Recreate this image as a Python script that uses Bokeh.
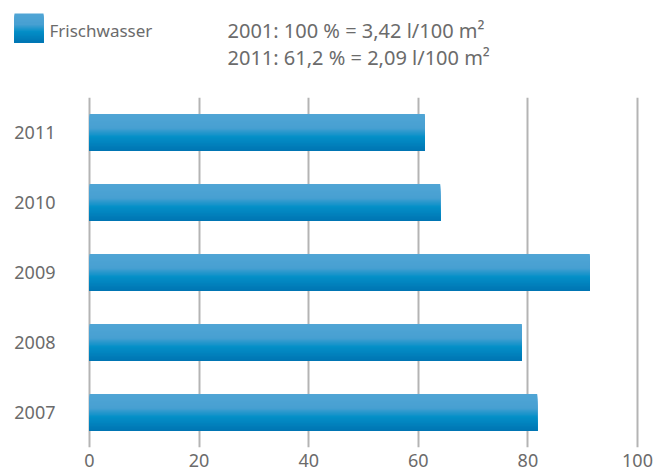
from bokeh.plotting import figure
from bokeh.layouts import column
from bokeh.models import FactorRange, Range1d, FixedTicker, ColumnDataSource
from bokeh.transform import dodge
from bokeh.core.properties import value
from bokeh.embed import file_html
from bokeh.resources import INLINE

# Fresh water consumption, indexed to 2001 = 100 %
years = ["2007", "2008", "2009", "2010", "2011"]
fresh_water = [81.7, 78.9, 91.3, 64.0, 61.2]
x_ticks = [0, 20, 40, 60, 80, 100]
series_name = "Frischwasser"
notes = ["2001: 100 % = 3,42 l/100 m²", "2011: 61,2 % = 2,09 l/100 m²"]

FONT = "Noto Sans"
TEXT = "#6b6b6b"
GRID = "#b4b4b4"

# vertical gradient of the bars: (fraction from top, rgb)
STOPS = [
    (0.00, (0x50, 0xa5, 0xd5)),
    (0.38, (0x48, 0xa0, 0xd2)),
    (0.62, (0x04, 0x8f, 0xc7)),
    (1.00, (0x00, 0x74, 0xb2)),
]
N_STRIPS = 30


def grad(t):
    for (t0, c0), (t1, c1) in zip(STOPS[:-1], STOPS[1:]):
        if t <= t1:
            f = (t - t0) / (t1 - t0) if t1 > t0 else 0.0
            rgb = [round(a + (b - a) * f) for a, b in zip(c0, c1)]
            return "#%02x%02x%02x" % tuple(rgb)
    return "#%02x%02x%02x" % STOPS[-1][1]


# ---- header: legend swatch and reference notes ----
W = 658
HEAD_H = 90
head = figure(width=W, height=HEAD_H, x_range=Range1d(0, W), y_range=Range1d(HEAD_H, 0),
              output_backend="svg", toolbar_location=None, min_border=0)
head.frame_align = False
head.axis.visible = False
head.grid.visible = False
head.outline_line_color = None

# swatch: each strip runs from its own top down to the swatch bottom,
# later strips overlap earlier ones so no seams appear
sw_left, sw_top, sw_size = 14, 13, 29
step = sw_size / N_STRIPS
for i in range(N_STRIPS):
    head.quad(left=[sw_left], right=[sw_left + sw_size],
              top=[sw_top + i * step], bottom=[sw_top + sw_size],
              fill_color=grad((i + 0.5) / N_STRIPS), line_color=None)

head.text(x=[49], y=[30], text=[series_name], text_baseline="middle", text_align="left",
          text_font=value(FONT), text_font_size="17px", text_color=TEXT)
head.text(x=[227, 227], y=[30, 57], text=notes, text_baseline="middle", text_align="left",
          text_font=value(FONT), text_font_size="20px", text_color=TEXT)

# ---- main chart ----
src = ColumnDataSource(dict(year=years, value=fresh_water))

p = figure(width=W, height=472 - HEAD_H, y_range=FactorRange(factors=years, range_padding=0),
           x_range=Range1d(-1.64, 102.37), output_backend="svg", toolbar_location=None,
           min_border_left=80, min_border_right=8, min_border_top=7, min_border_bottom=25)
p.frame_align = False
p.outline_line_color = None

BAR_H = 0.53
sh = BAR_H / N_STRIPS
for i in range(N_STRIPS):
    top = BAR_H / 2 - i * sh
    bottom = -BAR_H / 2
    p.hbar(y=dodge("year", (top + bottom) / 2, range=p.y_range), height=top - bottom,
           left=0, right="value", source=src,
           fill_color=grad((i + 0.5) / N_STRIPS), line_color=None)

p.xgrid.ticker = FixedTicker(ticks=x_ticks)
p.xgrid.grid_line_color = GRID
p.xgrid.grid_line_width = 2
p.ygrid.grid_line_color = None

p.xaxis.ticker = FixedTicker(ticks=x_ticks)
for ax in (p.xaxis, p.yaxis):
    ax.axis_line_color = None
    ax.major_tick_line_color = None
    ax.minor_tick_line_color = None
    ax.major_tick_out = 0
    ax.major_tick_in = 0
    ax.major_label_text_font = FONT
    ax.major_label_text_font_size = "18px"
    ax.major_label_text_color = TEXT
p.xaxis.major_label_standoff = 6
p.yaxis.major_label_standoff = 25

layout = column(head, p, spacing=0)
open("out.html", "w").write(file_html(layout, INLINE))
